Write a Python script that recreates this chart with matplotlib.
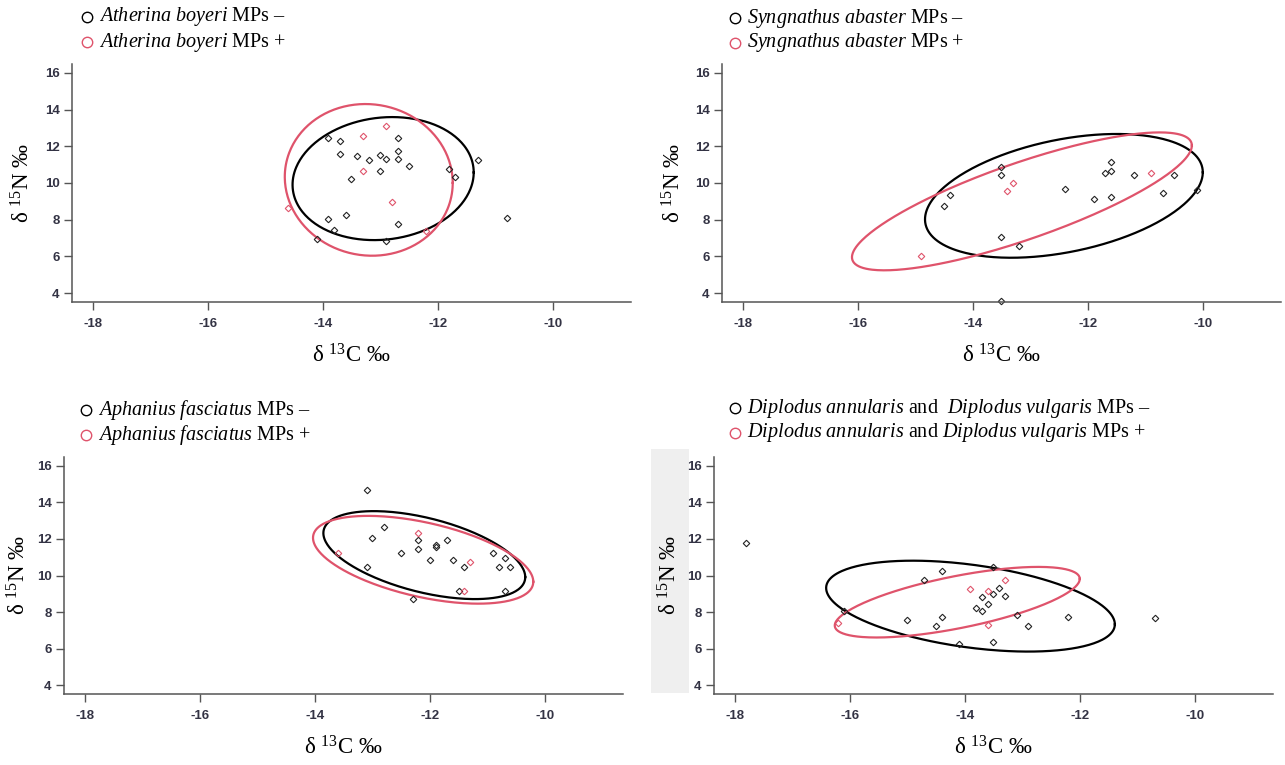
import numpy as np
import matplotlib
matplotlib.use('Agg')
import matplotlib.pyplot as plt
from matplotlib.patches import Rectangle

plt.rcParams['mathtext.fontset'] = 'custom'
plt.rcParams['mathtext.rm'] = 'Liberation Serif'
plt.rcParams['mathtext.it'] = 'Liberation Serif:italic'
plt.rcParams['font.family'] = ['Liberation Serif', 'DejaVu Serif']
plt.rcParams['axes.unicode_minus'] = False

RED = '#DF536B'

# Atherina boyeri
ab_neg_c = [-13.9, -13.7, -13.7, -13.4, -13.2, -13.0, -12.9, -12.7, -12.7, -12.7, -12.5, -13.0,
            -13.5, -11.8, -11.7, -11.3, -10.8, -13.6, -13.9, -13.8, -14.1, -12.9, -12.7]
ab_neg_n = [12.45, 12.3, 11.6, 11.45, 11.25, 11.5, 11.3, 12.45, 11.75, 11.3, 10.95, 10.65,
            10.2, 10.75, 10.35, 11.25, 8.1, 8.25, 8.05, 7.45, 6.95, 6.85, 7.75]
ab_pos_c = [-13.3, -12.9, -13.3, -12.8, -14.6, -12.2]
ab_pos_n = [12.55, 13.1, 10.65, 8.95, 8.65, 7.4]

# Syngnathus abaster
sa_neg_c = [-13.5, -13.5, -14.5, -14.4, -13.5, -13.2, -12.4, -11.9, -11.7, -11.6, -11.6, -11.6,
            -11.2, -10.7, -10.5, -10.1, -13.5]
sa_neg_n = [10.85, 10.45, 8.75, 9.35, 7.05, 6.55, 9.7, 9.15, 10.55, 11.15, 10.65, 9.25,
            10.45, 9.45, 10.45, 9.6, 3.6]
sa_pos_c = [-13.3, -13.4, -10.9, -14.9]
sa_pos_n = [10.0, 9.55, 10.55, 6.0]

# Aphanius fasciatus
af_neg_c = [-13.1, -12.8, -13.0, -13.1, -12.5, -12.2, -12.2, -11.9, -11.9, -11.7, -12.0, -11.6,
            -11.4, -11.5, -12.3, -10.9, -10.7, -10.8, -10.6, -10.7]
af_neg_n = [14.65, 12.65, 12.05, 10.45, 11.25, 11.95, 11.45, 11.65, 11.55, 11.95, 10.85, 10.85,
            10.45, 9.15, 8.7, 11.25, 10.95, 10.45, 10.45, 9.15]
af_pos_c = [-13.6, -12.2, -11.3, -11.4]
af_pos_n = [11.25, 12.35, 10.75, 9.15]

# Diplodus annularis and Diplodus vulgaris
dp_neg_c = [-17.8, -10.7, -16.1, -15.0, -14.7, -14.4, -14.4, -14.5, -14.1, -13.8, -13.7, -13.7,
            -13.6, -13.5, -13.5, -13.4, -13.3, -13.5, -13.1, -12.9, -12.2]
dp_neg_n = [11.75, 7.65, 8.05, 7.55, 9.75, 10.25, 7.75, 7.25, 6.25, 8.2, 8.8, 8.05,
            8.45, 9.0, 10.45, 9.3, 8.9, 6.35, 7.85, 7.25, 7.75]
dp_pos_c = [-13.9, -13.6, -13.3, -13.6, -16.2]
dp_pos_n = [9.25, 9.15, 9.75, 7.3, 7.4]

# standard ellipses: centre x, centre y, half range x, half range y, correlation
ab_neg_ell = (-12.95, 10.24, 1.575, 3.35, 0.10)
ab_pos_ell = (-13.20, 10.17, 1.46, 4.13, -0.04)
sa_neg_ell = (-12.415, 9.30, 2.415, 3.37, 0.38)
sa_pos_ell = (-13.145, 9.00, 2.955, 3.755, 0.81)
af_neg_ell = (-12.095, 11.115, 1.755, 2.405, -0.50)
af_pos_ell = (-12.115, 10.86, 1.915, 2.40, -0.50)
dp_neg_ell = (-13.90, 8.325, 2.51, 2.485, -0.40)
dp_pos_ell = (-14.13, 8.54, 2.13, 1.93, 0.66)

panels = [
    ('Atherina\\ boyeri', False, ab_neg_c, ab_neg_n, ab_pos_c, ab_pos_n, ab_neg_ell, ab_pos_ell),
    ('Syngnathus\\ abaster', False, sa_neg_c, sa_neg_n, sa_pos_c, sa_pos_n, sa_neg_ell, sa_pos_ell),
    ('Aphanius\\ fasciatus', False, af_neg_c, af_neg_n, af_pos_c, af_pos_n, af_neg_ell, af_pos_ell),
    ('Diplodus', True, dp_neg_c, dp_neg_n, dp_pos_c, dp_pos_n, dp_neg_ell, dp_pos_ell),
]

# axes boxes in pixels: left, top, right, bottom
boxes = [(72, 64, 631, 302), (722, 64, 1281, 302), (64, 457, 623, 694), (714, 457, 1273, 694)]
legend_xy = [(87, 17), (735, 18), (86, 410), (735, 408)]
ylabel_x = [23, 674, 19, 670]

W, H = 1285, 765
fig = plt.figure(figsize=(W / 100, H / 100), dpi=100)

# grey band behind the last y axis labels
fig.patches.append(Rectangle((651 / W, 1 - 693 / H), 38 / W, 244 / H, transform=fig.transFigure,
                             facecolor='#efefef', edgecolor='none', zorder=-1))


def ellipse(params):
    cx, cy, a, b, r = params
    t = np.linspace(0, 2 * np.pi, 300)
    return cx + a * np.cos(t), cy + b * (r * np.cos(t) + np.sqrt(1 - r * r) * np.sin(t))


for i, (name, two, nc, nn, pc, pn, ne, pe) in enumerate(panels):
    l, t, r, b = boxes[i]
    lx, ly = legend_xy[i]
    ax = fig.add_axes([l / W, 1 - b / H, (r - l) / W, (b - t) / H])
    ax.patch.set_alpha(0)
    ax.set_xlim(-18.36, -8.64)
    ax.set_ylim(3.52, 16.48)
    for s in ('top', 'right'):
        ax.spines[s].set_visible(False)
    for s in ('left', 'bottom'):
        ax.spines[s].set_color('#555555')
        ax.spines[s].set_linewidth(1.1)
    ax.set_xticks([-18, -16, -14, -12, -10])
    ax.set_yticks([4, 6, 8, 10, 12, 14, 16])
    ax.tick_params(length=5.5, width=1.0, color='#555555', labelsize=9.5, labelcolor='#333344')
    ax.tick_params(axis='x', pad=6)
    for lab in ax.get_xticklabels() + ax.get_yticklabels():
        lab.set_family(['Liberation Sans Narrow', 'Liberation Sans', 'DejaVu Sans'])
        lab.set_weight('bold')

    x, y = ellipse(ne)
    ax.plot(x, y, color='black', lw=1.6)
    x, y = ellipse(pe)
    ax.plot(x, y, color=RED, lw=1.6)
    ax.plot(nc, nn, 'D', ms=3.3, mfc='none', mec='#222222', mew=0.8, clip_on=False)
    ax.plot(pc, pn, 'D', ms=3.3, mfc='none', mec=RED, mew=0.8)

    ax.set_xlabel(r'δ $^{\mathrm{13}}$C ‰', fontsize=16.5, labelpad=10)
    ax.set_ylabel(r'δ $^{\mathrm{15}}$N ‰', fontsize=16.5, va='center')
    ax.yaxis.set_label_coords((ylabel_x[i] - l) / (r - l), 0.5)

    if two:
        lines = [r'$\it{Diplodus\ annularis}$ and  $\it{Diplodus\ vulgaris}$ MPs –',
                 r'$\it{Diplodus\ annularis}$ and $\it{Diplodus\ vulgaris}$ MPs +']
    else:
        lines = [r'$\it{%s}$ MPs –' % name, r'$\it{%s}$ MPs +' % name]
    for k, (txt, col) in enumerate(zip(lines, ['black', RED])):
        yy = 1 - (ly + 25 * k) / H
        fig.lines.append(plt.Line2D([lx / W], [yy], marker='o', ms=7.5, mfc='none', mec=col,
                                    mew=1.0, transform=fig.transFigure))
        fig.text((lx + 12) / W, yy, txt, fontsize=14.5, va='center', ha='left')

fig.savefig('out.png', dpi=100)
